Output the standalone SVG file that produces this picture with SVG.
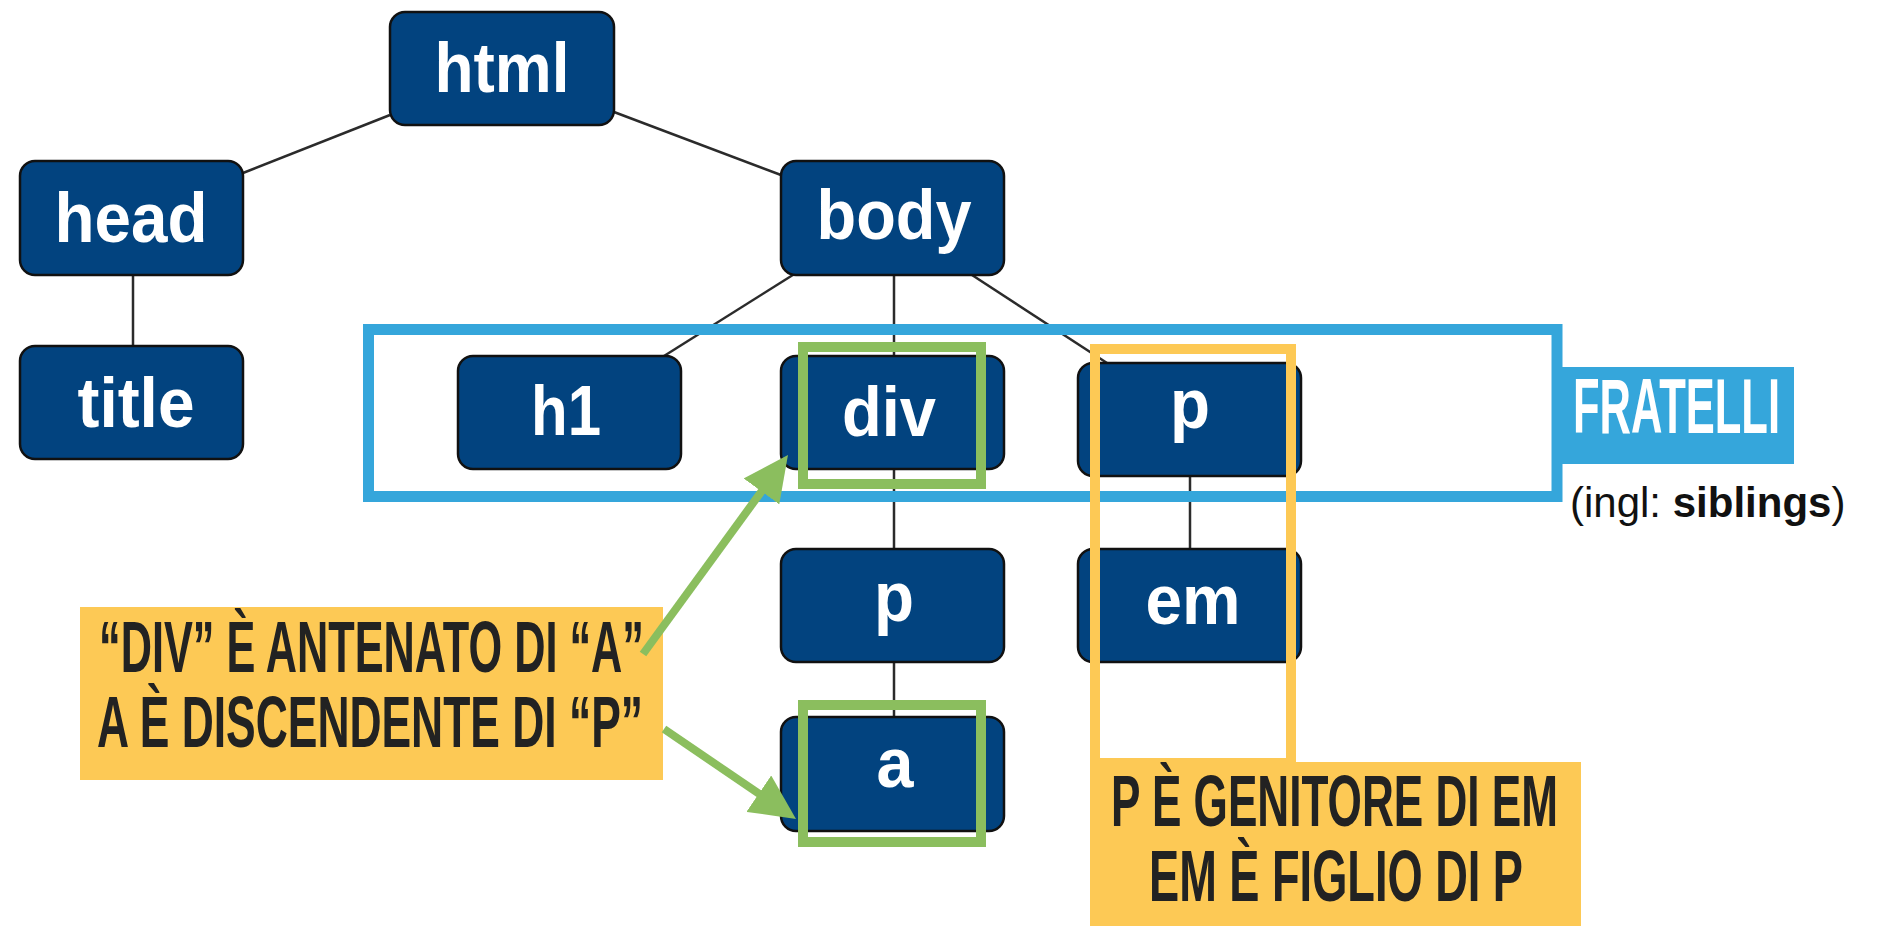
<svg xmlns="http://www.w3.org/2000/svg" width="1884" height="928" viewBox="0 0 1884 928">
<defs>
<style>
.node rect{fill:#02437F;stroke:#111;stroke-width:2.5}
.node text{fill:#fff;font-family:"Liberation Sans",Arial,sans-serif;font-weight:bold;font-size:70px;text-anchor:middle}
.conn line{stroke:#2b2b2b;stroke-width:2.5}
.lbl{font-family:"Liberation Sans",Arial,sans-serif;font-weight:bold;text-anchor:middle}
.arrow{stroke:#8BBE5E;stroke-width:8;fill:none}
</style>
<marker id="ah" viewBox="0 0 45 44" refX="15" refY="22" markerWidth="45" markerHeight="44" markerUnits="userSpaceOnUse" orient="auto">
<polygon points="0,0 45,22 0,44" fill="#8BBE5E"/>
</marker>
</defs>
<rect width="1884" height="928" fill="#fff"/>
<g id="connectors" class="conn">
<line x1="390" y1="115" x2="243" y2="173"/>
<line x1="614" y1="112" x2="781" y2="175"/>
<line x1="133" y1="275" x2="133" y2="346"/>
<line x1="796" y1="273" x2="664" y2="356"/>
<line x1="894" y1="275" x2="894" y2="356"/>
<line x1="972" y1="275" x2="1107" y2="363"/>
<line x1="894" y1="469" x2="894" y2="549"/>
<line x1="894" y1="662" x2="894" y2="717"/>
<line x1="1190" y1="476" x2="1190" y2="549"/>
</g>
<g id="node-html" class="node"><rect x="390" y="12" width="224" height="113" rx="15"/><text x="502" y="92" textLength="135" lengthAdjust="spacingAndGlyphs">html</text></g>
<g id="node-head" class="node"><rect x="20" y="161" width="223" height="114" rx="15"/><text x="131" y="242" textLength="153" lengthAdjust="spacingAndGlyphs">head</text></g>
<g id="node-title" class="node"><rect x="20" y="346" width="223" height="113" rx="15"/><text x="136" y="427" textLength="117" lengthAdjust="spacingAndGlyphs">title</text></g>
<g id="node-body" class="node"><rect x="781" y="161" width="223" height="114" rx="15"/><text x="894" y="239" textLength="155" lengthAdjust="spacingAndGlyphs">body</text></g>
<g id="node-h1" class="node"><rect x="458" y="356" width="223" height="113" rx="15"/><text x="566" y="435" textLength="70" lengthAdjust="spacingAndGlyphs">h1</text></g>
<g id="node-div" class="node"><rect x="781" y="356" width="223" height="113" rx="15"/><text x="889" y="436" textLength="94" lengthAdjust="spacingAndGlyphs">div</text></g>
<g id="node-p1" class="node"><rect x="1078" y="363" width="223" height="113" rx="15"/><text x="1190" y="428" textLength="40" lengthAdjust="spacingAndGlyphs">p</text></g>
<g id="node-p2" class="node"><rect x="781" y="549" width="223" height="113" rx="15"/><text x="894" y="621" textLength="40" lengthAdjust="spacingAndGlyphs">p</text></g>
<g id="node-em" class="node"><rect x="1078" y="549" width="223" height="113" rx="15"/><text x="1193" y="624" textLength="95" lengthAdjust="spacingAndGlyphs">em</text></g>
<g id="node-a" class="node"><rect x="781" y="717" width="223" height="114" rx="15"/><text x="895" y="787" textLength="37" lengthAdjust="spacingAndGlyphs">a</text></g>
<g id="siblings">
<rect x="368.5" y="329.5" width="1188.5" height="167" fill="none" stroke="#35A6DB" stroke-width="11"/>
<rect x="1552" y="367" width="242" height="97" fill="#35A6DB"/>
<text class="lbl" x="1676.5" y="433" font-size="77" fill="#fff" textLength="207" lengthAdjust="spacingAndGlyphs">FRATELLI</text>
<text x="1570" y="517" font-family="'Liberation Sans',Arial,sans-serif" font-size="42" fill="#111">(ingl: <tspan font-weight="bold">siblings</tspan>)</text>
</g>
<g id="highlights">
<rect x="803" y="347" width="178" height="137" fill="none" stroke="#8BBE5E" stroke-width="10"/>
<rect x="803" y="705" width="178" height="137" fill="none" stroke="#8BBE5E" stroke-width="10"/>
<rect x="1095" y="349" width="196" height="414" fill="none" stroke="#FDC955" stroke-width="10"/>
</g>
<g id="label-parent">
<rect x="1090" y="762" width="491" height="164" fill="#FDC955"/>
<text class="lbl" x="1334.5" y="826" font-size="73" fill="#222" textLength="447" lengthAdjust="spacingAndGlyphs">P È GENITORE DI EM</text>
<text class="lbl" x="1336" y="901" font-size="73" fill="#222" textLength="374" lengthAdjust="spacingAndGlyphs">EM È FIGLIO DI P</text>
</g>
<g id="label-ancestor">
<rect x="80" y="607" width="583" height="173" fill="#FDC955"/>
<text class="lbl" x="371.5" y="672" font-size="73" fill="#222" textLength="545" lengthAdjust="spacingAndGlyphs">“DIV” È ANTENATO DI “A”</text>
<text class="lbl" x="370" y="747" font-size="73" fill="#222" textLength="546" lengthAdjust="spacingAndGlyphs">A È DISCENDENTE DI “P”</text>
</g>
<g id="arrows">
<line class="arrow" x1="643" y1="654" x2="770.3" y2="479.3" marker-end="url(#ah)"/>
<line class="arrow" x1="664" y1="729" x2="771.2" y2="802.1" marker-end="url(#ah)"/>
</g>
</svg>
